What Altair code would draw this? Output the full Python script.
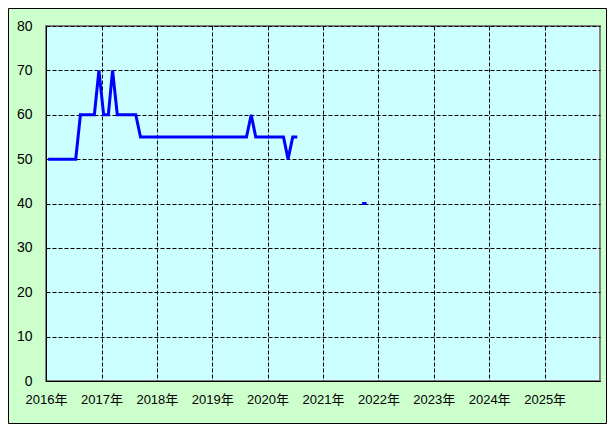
import altair as alt
import pandas as pd

# monthly values (mid-month), Jan 2016 .. Jul 2020, then Sep/Oct 2021
months_a = [f"{y}-{m:02d}" for y in range(2016, 2021) for m in range(1, 13)][:55]
values_a = (
    [50, 50, 50, 50, 50, 50, 50, 60, 60, 60, 60, 70] +          # 2016
    [60, 60, 70, 60, 60, 60, 60, 60, 55, 55, 55, 55] +          # 2017
    [55] * 12 +                                                  # 2018
    [55, 55, 55, 55, 55, 55, 55, 55, 60, 55, 55, 55] +          # 2019
    [55, 55, 55, 55, 50, 55, 55]                                 # 2020
)
months_b = ["2021-09", "2021-10"]
values_b = [40, 40]

year_ticks = [f"{y}-01-01" for y in range(2016, 2026)]

df = pd.DataFrame({
    "date": [m + "-15" for m in months_a + months_b],
    "value": values_a + values_b,
    "seg": ["a"] * len(months_a) + ["b"] * len(months_b),
})

FONT = "Liberation Sans, Noto Sans CJK JP"

line = alt.Chart(df).mark_line(color="#0000FF", strokeWidth=3, clip=True).encode(
    x=alt.X("date:T",
            scale=alt.Scale(type="utc", domain=["2016-01-01", "2026-01-01"]),
            axis=alt.Axis(values=year_ticks, labelExpr="utcFormat(datum.value, '%Y') + '年'",
                          title=None, grid=True, ticks=False, tickSize=0,
                          labelPadding=12, labelAlign="center", labelFontSize=13,
                          labelFont=FONT, labelColor="#000000", labelFlush=False,
                          domainColor="#000000")),
    y=alt.Y("value:Q",
            scale=alt.Scale(domain=[0, 80], nice=False),
            axis=alt.Axis(values=list(range(0, 81, 10)), title=None, grid=True,
                          ticks=False, tickSize=0, labelPadding=14, labelFontSize=14,
                          labelFont=FONT, labelColor="#000000", domainColor="#000000")),
    detail="seg:N",
)

frame = alt.Chart(pd.DataFrame({"k": [0]})).mark_rect(
    fill=None, stroke="#000000", strokeWidth=1, clip=False
).encode(
    x=alt.value(-37.5), x2=alt.value(560.5), y=alt.value(-17.5), y2=alt.value(397.5)
)

chart = alt.layer(frame, line).properties(
    width=554, height=355,
    padding={"left": 38, "top": 18, "right": 7, "bottom": 43},
    autosize=alt.AutoSizeParams(type="none"),
    background="#CCFFCC",
).configure_view(
    fill="#CCFFFF", stroke="#808080", strokeWidth=2
).configure_axis(
    gridColor="#000000", gridDash=[4, 2], gridWidth=1, gridOpacity=1,
    domainWidth=1, domainOpacity=1,
)

chart.save("out.html", embed_options={"renderer": "svg", "actions": False})
